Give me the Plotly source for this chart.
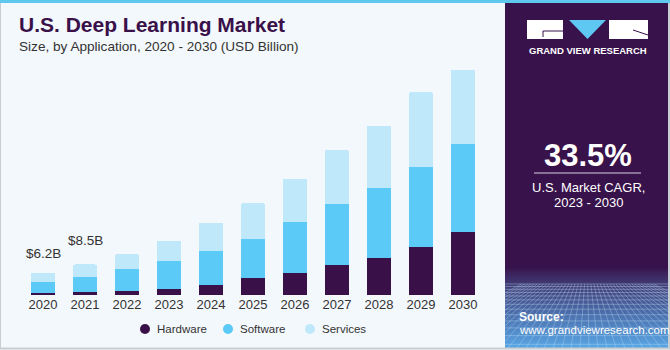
import plotly.graph_objects as go

years = ["2020", "2021", "2022", "2023", "2024", "2025", "2026", "2027", "2028", "2029", "2030"]
hardware = [0.6, 0.8, 1.1, 1.7, 2.8, 4.7, 6.1, 8.3, 10.3, 13.3, 17.5]
software = [3.1, 4.2, 6.1, 7.8, 9.5, 10.8, 14.2, 17.0, 19.5, 22.2, 24.5]
services = [2.5, 3.5, 4.2, 5.6, 7.8, 10.0, 12.0, 15.0, 17.2, 20.9, 20.6]
series_names = ["Hardware", "Software", "Services"]
labels = {"2020": "$6.2B", "2021": "$8.5B"}
label_shift = {"2020": 10, "2021": 14}

C_HW = "#3a1049"
C_SW = "#5ccaf6"
C_SV = "#bfe9fa"
PURPLE = "#38124a"
BG = "#f3f8fc"

WIDTH, HEIGHT = 670, 350


def X(px):
    return px / WIDTH


def Y(py):
    return (HEIGHT - py) / HEIGHT


fig = go.Figure()
for name, vals, col in zip(series_names, [hardware, software, services], [C_HW, C_SW, C_SV]):
    fig.add_trace(go.Bar(x=years, y=vals, name=name, marker=dict(color=col, line=dict(width=0)),
                         showlegend=False, hoverinfo="x+y+name", xaxis="x", yaxis="y"))

# decorative purple->blue fade at bottom of side panel (heatmap on its own hidden axes)
n_rows = 40
fade = [[(k / (n_rows - 1)) ** 0.85] for k in range(n_rows)]
fig.add_trace(go.Heatmap(z=fade, x=[0], y=list(range(n_rows)), xaxis="x2", yaxis="y2",
                         colorscale=[[0, PURPLE], [1, "#58a5e4"]], zmin=0, zmax=1,
                         showscale=False, hoverinfo="skip", zsmooth="best"))

totals = [round(h + s + v, 1) for h, s, v in zip(hardware, software, services)]
annotations = []
for yr, t in labels.items():
    i = years.index(yr)
    annotations.append(dict(x=i, y=totals[i], xref="x", yref="y", text=t, showarrow=False,
                            yanchor="bottom", yshift=label_shift[yr],
                            font=dict(size=13.5, color="#333333", family="Liberation Sans")))

shapes = []
# right panel
shapes.append(dict(type="rect", xref="paper", yref="paper", x0=X(505), x1=X(668), y0=Y(348), y1=Y(3),
                   fillcolor=PURPLE, line=dict(width=0), layer="below"))
# perspective grid
gy = 284.0
step = 2.5
while gy < 348:
    shapes.append(dict(type="line", xref="paper", yref="paper", x0=X(505), x1=X(668), y0=Y(gy), y1=Y(gy),
                       line=dict(color="rgba(185,220,248,0.38)", width=1), layer="above"))
    gy += step
    step *= 1.12
for gx in range(400, 780, 9):
    x_top = 587 + (gx - 587) * 0.35
    xb = min(max(gx, 505), 668)
    if x_top < 505 or x_top > 668:
        continue
    if gx != xb:
        frac = (xb - x_top) / (gx - x_top)
        yb = 284 + (348 - 284) * frac
    else:
        yb = 348
    shapes.append(dict(type="line", xref="paper", yref="paper",
                       x0=X(x_top), x1=X(xb), y0=Y(284), y1=Y(yb),
                       line=dict(color="rgba(185,220,248,0.35)", width=1), layer="above"))
# top stripe
shapes.append(dict(type="rect", xref="paper", yref="paper", x0=X(0), x1=X(670), y0=Y(3), y1=Y(0),
                   fillcolor="#5ec8ef", line=dict(width=0)))
# borders
shapes.append(dict(type="line", xref="paper", yref="paper", x0=X(0.5), x1=X(0.5), y0=Y(349), y1=Y(3),
                   line=dict(color="#c8cdd2", width=1)))
shapes.append(dict(type="line", xref="paper", yref="paper", x0=X(0), x1=X(670), y0=Y(348.5), y1=Y(348.5),
                   line=dict(color="#c8cdd2", width=2)))
shapes.append(dict(type="line", xref="paper", yref="paper", x0=X(669), x1=X(669), y0=Y(349), y1=Y(3),
                   line=dict(color="#c8cdd2", width=2)))
# logo
shapes.append(dict(type="rect", xref="paper", yref="paper", x0=X(527), x1=X(563), y0=Y(39), y1=Y(20),
                   fillcolor="white", line=dict(width=0)))
shapes.append(dict(type="path", xref="paper", yref="paper",
                   path=f"M {X(543)} {Y(37)} L {X(543)} {Y(31)} L {X(563)} {Y(31)}",
                   line=dict(color=PURPLE, width=1)))
shapes.append(dict(type="path", xref="paper", yref="paper",
                   path=f"M {X(569)} {Y(20)} L {X(606)} {Y(20)} L {X(587.5)} {Y(39)} Z",
                   fillcolor="#5ec8f2", line=dict(width=0)))
shapes.append(dict(type="rect", xref="paper", yref="paper", x0=X(609), x1=X(648), y0=Y(39), y1=Y(20),
                   fillcolor="white", line=dict(width=0)))
shapes.append(dict(type="path", xref="paper", yref="paper",
                   path=f"M {X(633)} {Y(30)} L {X(648)} {Y(35)}",
                   line=dict(color=PURPLE, width=1)))
# CAGR rule
shapes.append(dict(type="line", xref="paper", yref="paper", x0=X(534), x1=X(641), y0=Y(173), y1=Y(173),
                   line=dict(color="#d8d0e0", width=1)))


def txt(px, py, text, size, color, bold=False, xanchor="center", family="Liberation Sans"):
    annotations.append(dict(x=X(px), y=Y(py), xref="paper", yref="paper", text=(f"<b>{text}</b>" if bold else text),
                            showarrow=False, xanchor=xanchor, yanchor="middle",
                            font=dict(size=size, color=color, family=family)))


# legend (drawn manually to match spacing)
legend_x = [145, 228, 310]
for name, col, lx in zip(series_names, [C_HW, C_SW, C_SV], legend_x):
    shapes.append(dict(type="circle", xref="paper", yref="paper", x0=X(lx - 5), x1=X(lx + 5),
                       y0=Y(334), y1=Y(324), fillcolor=col, line=dict(width=0)))
    txt(lx + 10, 329, name, 11.5, "#333333", xanchor="left")

txt(17, 25, "U.S. Deep Learning Market", 21, "#3a1049", bold=True, xanchor="left")
txt(17, 46, "Size, by Application, 2020 - 2030 (USD Billion)", 13.6, "#333333", xanchor="left")
txt(587.5, 51, "GRAND VIEW RESEARCH", 9.5, "white", bold=True)
txt(588, 155, "33.5%", 31, "white", bold=True)
txt(588, 187, "U.S. Market CAGR,", 13, "white")
txt(588, 202, "2023 - 2030", 13, "white")
txt(517, 317, "Source:", 12, "white", bold=True, xanchor="left")
txt(517, 330, "www.grandviewresearch.com", 11.5, "white", xanchor="left")

fig.update_layout(
    width=WIDTH, height=HEIGHT,
    margin=dict(l=0, r=0, t=0, b=0, pad=0),
    barmode="stack", bargap=0.43, barcornerradius=2,
    paper_bgcolor=BG, plot_bgcolor="rgba(0,0,0,0)",
    font=dict(family="Liberation Sans", color="#333333"),
    showlegend=False,
    xaxis=dict(domain=[X(22), X(484)], type="category", categoryorder="array", categoryarray=years,
               range=[-0.5, len(years) - 0.5],
               showgrid=False, showline=False, ticks="", zeroline=False,
               tickfont=dict(size=13, color="#333333"), ticklen=0),
    yaxis=dict(domain=[Y(295), Y(7)], range=[0, 80], visible=False, showgrid=False, zeroline=False),
    xaxis2=dict(domain=[X(505), X(668)], range=[-0.5, 0.5], visible=False, showgrid=False,
                zeroline=False, anchor="y2", fixedrange=True),
    yaxis2=dict(domain=[Y(348), Y(266)], range=[n_rows - 0.5, -0.5], visible=False, showgrid=False,
                zeroline=False, anchor="x2", fixedrange=True),
    shapes=shapes,
    annotations=annotations,
)

fig.write_html("out.html")
